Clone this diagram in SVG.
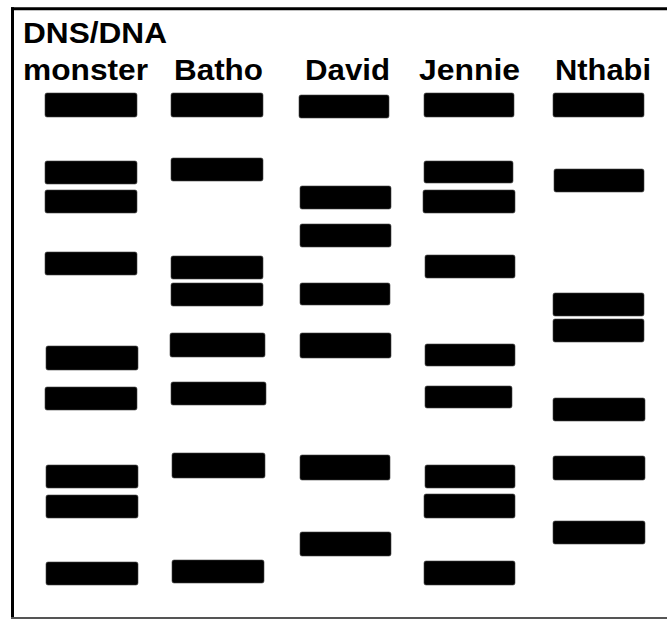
<svg xmlns="http://www.w3.org/2000/svg" width="667" height="619" viewBox="0 0 667 619">
<style>
.lbl{font-family:"Liberation Sans",Arial,sans-serif;font-weight:bold;font-size:30px;fill:#000}
.b{fill:#000;stroke:#444;stroke-width:0.6}
</style>
<rect width="667" height="619" fill="#fff"/>
<g id="frame">
<line x1="11" y1="8.7" x2="667" y2="8.7" stroke="#000" stroke-width="3"/>
<line x1="12.5" y1="7.2" x2="12.5" y2="619" stroke="#000" stroke-width="3"/>
<line x1="11" y1="618" x2="667" y2="618" stroke="#555" stroke-width="2"/>
</g>
<g id="connectors"/>
<g id="lane-monster">
<text class="lbl" x="23" y="43" textLength="144" lengthAdjust="spacingAndGlyphs">DNS/DNA</text>
<text class="lbl" x="23" y="80" textLength="125" lengthAdjust="spacingAndGlyphs">monster</text>
<rect class="b" x="45" y="93" width="92" height="24" rx="2"/>
<rect class="b" x="45" y="161" width="92" height="23" rx="2"/>
<rect class="b" x="45" y="190" width="92" height="23" rx="2"/>
<rect class="b" x="45" y="252" width="92" height="23" rx="2"/>
<rect class="b" x="46" y="346" width="92" height="24" rx="2"/>
<rect class="b" x="45" y="387" width="92" height="23" rx="2"/>
<rect class="b" x="46" y="465" width="92" height="23" rx="2"/>
<rect class="b" x="46" y="495" width="92" height="23" rx="2"/>
<rect class="b" x="46" y="562" width="92" height="23" rx="2"/>
</g>
<g id="lane-batho">
<text class="lbl" x="174" y="80" textLength="89" lengthAdjust="spacingAndGlyphs">Batho</text>
<rect class="b" x="171" y="93" width="92" height="24" rx="2"/>
<rect class="b" x="171" y="158" width="92" height="23" rx="2"/>
<rect class="b" x="171" y="256" width="92" height="23" rx="2"/>
<rect class="b" x="171" y="283" width="92" height="23" rx="2"/>
<rect class="b" x="170" y="333" width="95" height="24" rx="2"/>
<rect class="b" x="171" y="382" width="95" height="23" rx="2"/>
<rect class="b" x="172" y="453" width="93" height="25" rx="2"/>
<rect class="b" x="172" y="560" width="92" height="23" rx="2"/>
</g>
<g id="lane-david">
<text class="lbl" x="305" y="80" textLength="85" lengthAdjust="spacingAndGlyphs">David</text>
<rect class="b" x="299" y="95" width="90" height="23" rx="2"/>
<rect class="b" x="300" y="186" width="91" height="23" rx="2"/>
<rect class="b" x="300" y="224" width="91" height="23" rx="2"/>
<rect class="b" x="300" y="283" width="90" height="22" rx="2"/>
<rect class="b" x="300" y="333" width="91" height="25" rx="2"/>
<rect class="b" x="300" y="455" width="90" height="25" rx="2"/>
<rect class="b" x="300" y="532" width="91" height="24" rx="2"/>
</g>
<g id="lane-jennie">
<text class="lbl" x="419" y="80" textLength="101" lengthAdjust="spacingAndGlyphs">Jennie</text>
<rect class="b" x="424" y="93" width="90" height="24" rx="2"/>
<rect class="b" x="424" y="161" width="89" height="22" rx="2"/>
<rect class="b" x="423" y="190" width="92" height="23" rx="2"/>
<rect class="b" x="425" y="255" width="90" height="23" rx="2"/>
<rect class="b" x="425" y="344" width="90" height="22" rx="2"/>
<rect class="b" x="425" y="386" width="87" height="22" rx="2"/>
<rect class="b" x="425" y="465" width="90" height="23" rx="2"/>
<rect class="b" x="424" y="494" width="91" height="24" rx="2"/>
<rect class="b" x="424" y="561" width="91" height="24" rx="2"/>
</g>
<g id="lane-nthabi">
<text class="lbl" x="555" y="80" textLength="96" lengthAdjust="spacingAndGlyphs">Nthabi</text>
<rect class="b" x="553" y="93" width="91" height="24" rx="2"/>
<rect class="b" x="554" y="169" width="90" height="23" rx="2"/>
<rect class="b" x="553" y="293" width="91" height="23" rx="2"/>
<rect class="b" x="553" y="319" width="91" height="23" rx="2"/>
<rect class="b" x="553" y="398" width="92" height="23" rx="2"/>
<rect class="b" x="553" y="456" width="92" height="24" rx="2"/>
<rect class="b" x="553" y="521" width="92" height="23" rx="2"/>
</g>
</svg>
